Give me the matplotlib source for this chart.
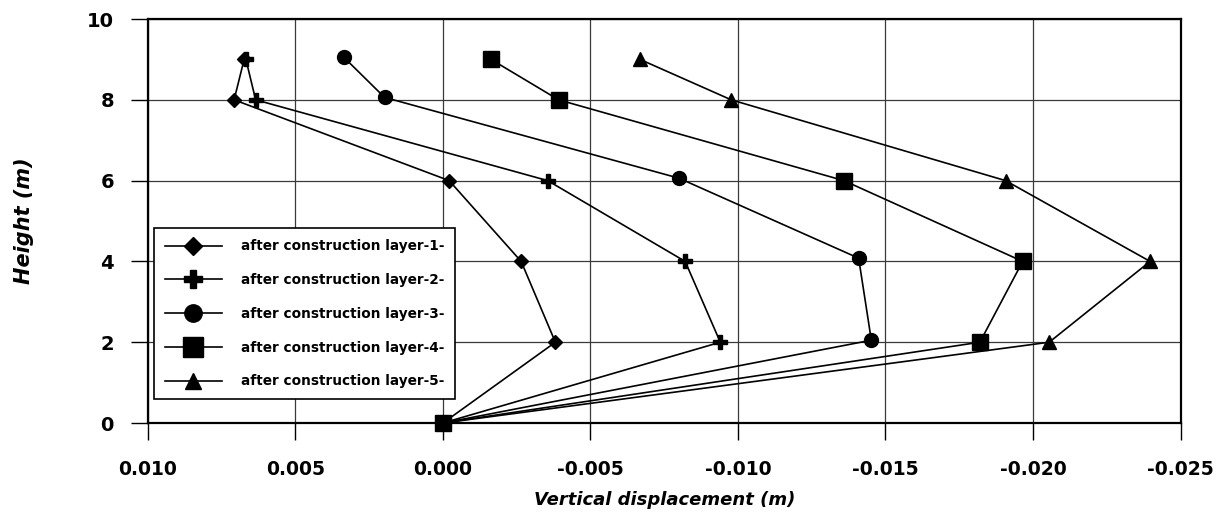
import matplotlib
matplotlib.use("Agg")
import matplotlib.pyplot as plt
from matplotlib.ticker import FormatStrFormatter, MultipleLocator

plt.rcParams['font.family'] = ['DejaVu Sans']

# Vertical displacement (m) at each height (m) after each construction layer
height = [0, 2, 4, 6, 8, 9]
height_l3 = [0, 2.05, 4.08, 6.06, 8.06, 9.06]
disp_l1 = [0.0, -0.00381, -0.00265, -0.00021, 0.00708, 0.00674]
disp_l2 = [0.0, -0.00940, -0.00821, -0.00355, 0.00635, 0.00668]
disp_l3 = [0.0, -0.01452, -0.01409, -0.00800, 0.00198, 0.00337]
disp_l4 = [0.0, -0.01820, -0.01965, -0.01359, -0.00392, -0.00163]
disp_l5 = [0.0, -0.02055, -0.02397, -0.01907, -0.00977, -0.00668]

labels = [
    "after construction layer-1-",
    "after construction layer-2-",
    "after construction layer-3-",
    "after construction layer-4-",
    "after construction layer-5-",
]
x_ticks = [0.010, 0.005, 0.000, -0.005, -0.010, -0.015, -0.020, -0.025]

fig = plt.figure(figsize=(12.32, 5.17), dpi=100)
ax = fig.add_axes([0.1201, 0.1818, 0.9582 - 0.1201, 0.9632 - 0.1818])

series = [
    (disp_l1, height, 'D', 7.2),
    (disp_l2, height, 'P', 10),
    (disp_l3, height_l3, 'o', 10),
    (disp_l4, height, 's', 11),
    (disp_l5, height, '^', 9.5),
]
for (xs, ys, mk, ms), lab in zip(series, labels):
    ax.plot(xs, ys, color='black', lw=1.2, marker=mk, markersize=ms,
            markerfacecolor='black', markeredgecolor='black', label=lab,
            clip_on=False, zorder=3)

ax.set_xlim(0.010, -0.025)
ax.set_ylim(0, 10)
ax.set_xticks(x_ticks)
ax.xaxis.set_major_formatter(FormatStrFormatter('%.3f'))
ax.yaxis.set_major_locator(MultipleLocator(2))

ax.grid(True, color='#3a3a3a', lw=0.9, zorder=0)
ax.set_axisbelow(True)

for sp in ax.spines.values():
    sp.set_linewidth(1.6)
    sp.set_color('black')

ax.tick_params(axis='both', direction='out', length=12.5, width=1.0,
               color='black')
ax.tick_params(axis='x', pad=14, labelsize=13.5)
ax.tick_params(axis='y', pad=12, labelsize=14)
for t in ax.get_xticklabels() + ax.get_yticklabels():
    t.set_fontweight('bold')

ax.set_xlabel("Vertical displacement (m)", fontsize=13, fontweight='bold',
              fontstyle='italic', labelpad=9)
ax.set_ylabel("Height (m)", fontsize=15, fontweight='bold',
              fontstyle='italic', labelpad=38)

leg = ax.legend(loc='lower left', bbox_to_anchor=(0.0055, 0.059),
                prop={'weight': 'bold', 'size': 9.8}, frameon=True,
                fancybox=False, edgecolor='black', framealpha=1,
                handlelength=4.2, handletextpad=1.4, labelspacing=1.45,
                borderpad=0.8, borderaxespad=0.0, markerscale=1.25)
leg.get_frame().set_linewidth(1.2)

fig.savefig("out.png", dpi=100)
